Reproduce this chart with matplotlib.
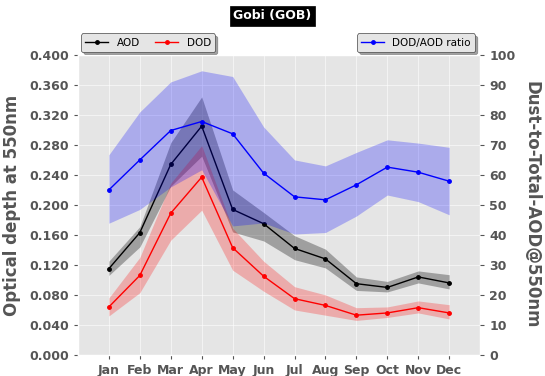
import numpy as np
import matplotlib.pyplot as plt

plt.style.use('ggplot')

months = ['Jan', 'Feb', 'Mar', 'Apr', 'May', 'Jun',
          'Jul', 'Aug', 'Sep', 'Oct', 'Nov', 'Dec']

# monthly mean optical depths and their spread
aod = [0.115, 0.163, 0.254, 0.305, 0.194, 0.175, 0.142, 0.128, 0.095, 0.090, 0.104, 0.096]
aod_hi = [0.125, 0.171, 0.283, 0.344, 0.220, 0.190, 0.159, 0.141, 0.104, 0.098, 0.112, 0.107]
aod_lo = [0.106, 0.144, 0.225, 0.265, 0.164, 0.152, 0.127, 0.116, 0.086, 0.084, 0.096, 0.088]

dod = [0.064, 0.106, 0.189, 0.237, 0.143, 0.105, 0.075, 0.066, 0.053, 0.056, 0.063, 0.056]
dod_hi = [0.076, 0.130, 0.229, 0.279, 0.169, 0.125, 0.091, 0.080, 0.063, 0.064, 0.072, 0.067]
dod_lo = [0.052, 0.083, 0.153, 0.193, 0.113, 0.085, 0.060, 0.053, 0.046, 0.050, 0.056, 0.048]

# dust fraction in percent
ratio = [55.0, 65.0, 74.8, 77.8, 73.7, 60.6, 52.7, 51.7, 56.7, 62.6, 60.9, 57.9]
ratio_hi = [66.7, 81.0, 91.0, 94.7, 92.8, 76.0, 65.0, 63.0, 67.5, 71.7, 70.6, 69.2]
ratio_lo = [43.9, 48.5, 56.0, 61.7, 43.0, 44.0, 40.3, 40.8, 46.3, 53.3, 51.1, 46.7]

x = np.arange(1, len(months) + 1)
gray = '#555555'

fig = plt.figure(figsize=(5.45, 3.76), dpi=100)
ax = fig.add_axes([0.143, 0.056, 0.738, 0.798])

ax.fill_between(x, aod_lo, aod_hi, color='black', alpha=0.3, lw=0)
ax.fill_between(x, dod_lo, dod_hi, color='red', alpha=0.25, lw=0)
l1, = ax.plot(x, aod, color='black', marker='o', ms=2.5, lw=1, label='AOD')
l2, = ax.plot(x, dod, color='red', marker='o', ms=2.5, lw=1, label='DOD')

ax.set_xlim(0, 13)
ax.set_ylim(0, 0.4)
ax.set_xticks(x)
ax.set_xticklabels(months)
ax.set_yticks(np.arange(0, 0.401, 0.04))
ax.set_yticklabels(['%.3f' % v for v in np.arange(0, 0.401, 0.04)])
ax.tick_params(labelsize=9, colors=gray, length=3)
for lab in ax.get_xticklabels() + ax.get_yticklabels():
    lab.set_fontweight('bold')
ax.set_ylabel('Optical depth at 550nm', fontsize=12, fontweight='bold',
              color=gray, labelpad=6)
ax.grid(color='white', lw=0.5, alpha=0.8)

ax2 = ax.twinx()
ax2.fill_between(x, ratio_lo, ratio_hi, color='blue', alpha=0.25, lw=0)
l3, = ax2.plot(x, ratio, color='blue', marker='o', ms=2.5, lw=1, label='DOD/AOD ratio')
ax2.set_ylim(0, 100)
ax2.set_yticks(np.arange(0, 101, 10))
ax2.grid(False)
ax2.tick_params(labelsize=9, colors=gray, length=3)
for lab in ax2.get_yticklabels():
    lab.set_fontweight('bold')
ax2.set_ylabel('Dust-to-Total-AOD@550nm', fontsize=12, fontweight='bold',
               color=gray, rotation=270, labelpad=18)
for s in ax2.spines.values():
    s.set_visible(False)

leg1 = ax.legend(handles=[l1, l2], ncol=2, loc='lower left', bbox_to_anchor=(0.0, 1.0),
                 fontsize=7.5, numpoints=1, shadow=True, frameon=True,
                 borderaxespad=0.3, handlelength=2.2, columnspacing=1.5)
leg1.get_frame().set_edgecolor('#444444')
leg1.get_frame().set_facecolor('#E5E5E5')
leg2 = ax2.legend(handles=[l3], loc='lower right', bbox_to_anchor=(0.995, 1.0),
                  fontsize=7.5, numpoints=1, shadow=True, frameon=True,
                  borderaxespad=0.3, handlelength=2.2)
leg2.get_frame().set_edgecolor('#444444')
leg2.get_frame().set_facecolor('#E5E5E5')

fig.text(0.5, 0.958, 'Gobi (GOB)', ha='center', va='center', fontsize=9,
         fontweight='bold', color='white',
         bbox=dict(facecolor='black', edgecolor='black', pad=2.5))

fig.savefig('out.png', dpi=100)
